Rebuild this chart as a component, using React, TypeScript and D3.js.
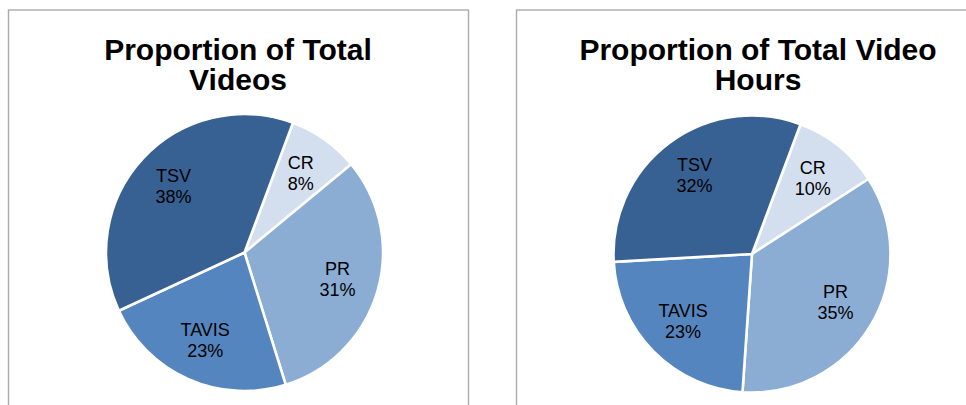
import React from "react";
import * as d3 from "d3";

const categories = ["CR", "PR", "TAVIS", "TSV"];
const videosShare = [8.3, 31.2, 22.9, 37.6];
const hoursShare = [10.2, 35.2, 23.0, 31.6];
const videosLabels = ["8%", "31%", "23%", "38%"];
const hoursLabels = ["10%", "35%", "23%", "32%"];
const titlesLeft = ["Proportion of Total", "Videos"];
const titlesRight = ["Proportion of Total Video", "Hours"];

const colors: Record<string, string> = {
  CR: "#d3dfef",
  PR: "#8badd4",
  TAVIS: "#5585be",
  TSV: "#386193",
};

const FONT = "'Liberation Sans', Arial, Helvetica, sans-serif";
const ROT = (20.5 * Math.PI) / 180;

function Pie({ values, labels, cx, cy, r }: { values: number[]; labels: string[]; cx: number; cy: number; r: number }) {
  const data = categories.map((c, i) => ({ c, v: values[i], l: labels[i] }));
  const pie = d3
    .pie<any>()
    .value((d) => d.v)
    .sort(null)
    .startAngle(ROT)
    .endAngle(ROT + 2 * Math.PI);
  const arcs = pie(data);
  const arc = d3.arc<any>().innerRadius(0).outerRadius(r);
  const labelArc = d3.arc<any>().innerRadius(r * 0.7).outerRadius(r * 0.7);
  return (
    <g transform={`translate(${cx},${cy})`}>
      {arcs.map((a, i) => (
        <path key={i} d={arc(a) as string} fill={colors[a.data.c]} stroke="#fff" strokeWidth={2.6} strokeLinejoin="round" />
      ))}
      {arcs.map((a, i) => {
        const [x, y] = labelArc.centroid(a);
        return (
          <text key={"t" + i} x={x} y={y} textAnchor="middle" fontFamily={FONT} fontSize={18} fill="#000">
            <tspan x={x} dy={-5}>{a.data.c}</tspan>
            <tspan x={x} dy={21}>{a.data.l}</tspan>
          </text>
        );
      })}
    </g>
  );
}

function Title({ lines, cx }: { lines: string[]; cx: number }) {
  return (
    <text textAnchor="middle" fontFamily={FONT} fontSize={30} fontWeight="bold" fill="#000">
      {lines.map((l, i) => (
        <tspan key={i} x={cx} y={60 + i * 30}>{l}</tspan>
      ))}
    </text>
  );
}

export default function App() {
  return (
    <svg width={966} height={405} style={{ position: "absolute", left: 0, top: 0, background: "#fff" }}>
      <rect x={8.5} y={10} width={460} height={420} fill="#fff" stroke="#ababab" strokeWidth={1.4} />
      <rect x={516.5} y={10} width={470} height={420} fill="#fff" stroke="#ababab" strokeWidth={1.4} />
      <Title lines={titlesLeft} cx={238} />
      <Title lines={titlesRight} cx={758} />
      <Pie values={videosShare} labels={videosLabels} cx={244.5} cy={252.5} r={138.5} />
      <Pie values={hoursShare} labels={hoursLabels} cx={752} cy={254} r={138.5} />
    </svg>
  );
}
